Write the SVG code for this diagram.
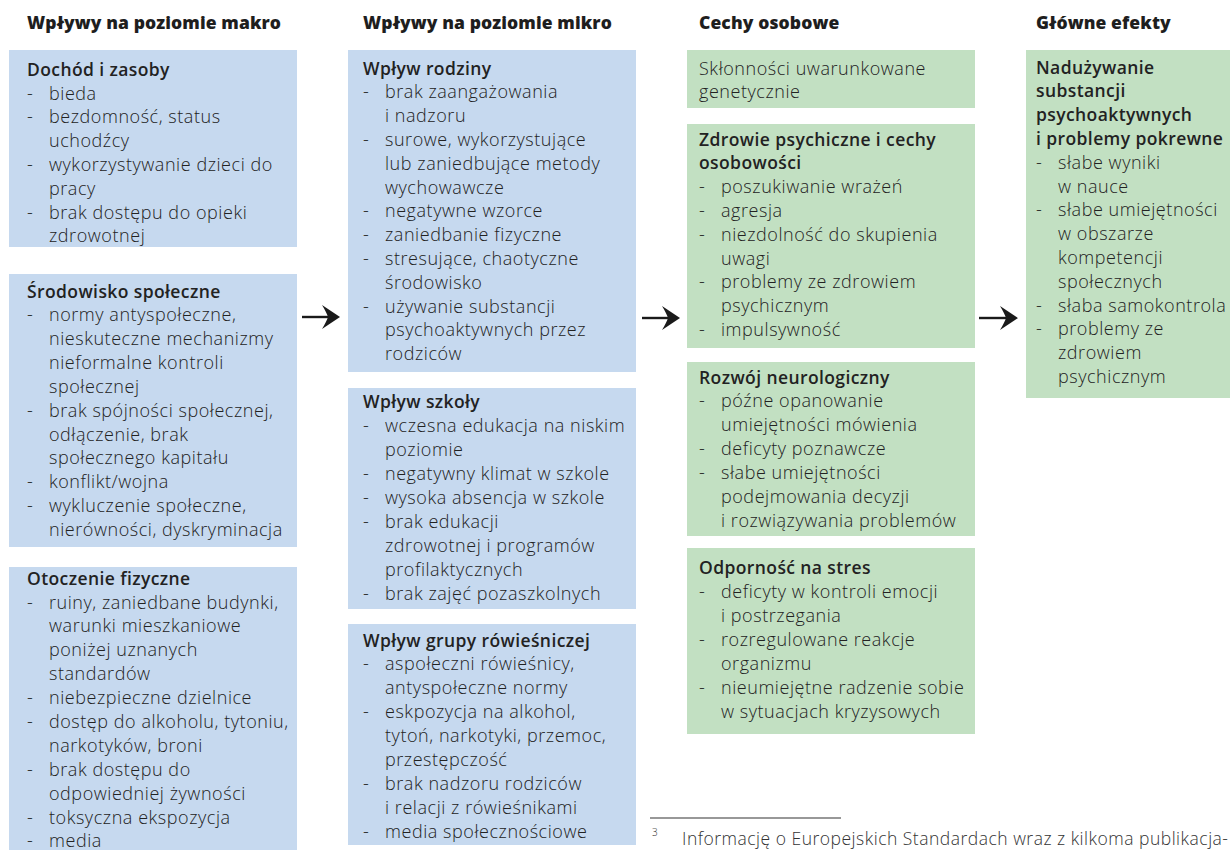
<svg xmlns="http://www.w3.org/2000/svg" width="1230" height="850" viewBox="0 0 1230 850">
<style>
.bg{fill:#ffffff}
.blue{fill:#c6d9ef}
.green{fill:#c2e0c2}
.hd{font-family:"Open Sans","Liberation Sans",sans-serif;font-weight:800;font-size:17.5px;fill:#1e1e1e;letter-spacing:0.1px}
.t{font-family:"Open Sans","Liberation Sans",sans-serif;font-weight:600;font-size:17.5px;fill:#222;letter-spacing:0.4px}
.i{font-family:"Open Sans","Liberation Sans",sans-serif;font-weight:300;font-size:18px;fill:#222;letter-spacing:0.55px}
.fn{font-family:"Open Sans","Liberation Sans",sans-serif;font-weight:300;font-size:17.5px;fill:#333}
.arr{stroke:#1a1a1a;stroke-width:2.4;fill:none}
.ah{fill:#1a1a1a}
</style>
<rect class="bg" x="0" y="0" width="1230" height="850"/>

<g id="headers">
<text class="hd" x="27" y="29">Wpływy na poziomie makro</text>
<text class="hd" x="363" y="29">Wpływy na poziomie mikro</text>
<text class="hd" x="699" y="29">Cechy osobowe</text>
<text class="hd" x="1036" y="29">Główne efekty</text>
</g>

<g id="dochod">
<rect class="blue" x="9" y="50" width="288" height="197"/>
<text class="t" x="27" y="76">Dochód i zasoby</text>
<text class="i" x="27" y="99.5">-</text><text class="i" x="49" y="99.5">bieda</text>
<text class="i" x="27" y="123.3">-</text><text class="i" x="49" y="123.3">bezdomność, status</text>
<text class="i" x="49" y="147.1">uchodźcy</text>
<text class="i" x="27" y="170.9">-</text><text class="i" x="49" y="170.9">wykorzystywanie dzieci do</text>
<text class="i" x="49" y="194.7">pracy</text>
<text class="i" x="27" y="218.5">-</text><text class="i" x="49" y="218.5">brak dostępu do opieki</text>
<text class="i" x="49" y="242.3">zdrowotnej</text>
</g>

<g id="srodowisko">
<rect class="blue" x="9" y="274" width="288" height="273"/>
<text class="t" x="27" y="297.5">Środowisko społeczne</text>
<text class="i" x="27" y="321">-</text><text class="i" x="49" y="321">normy antyspołeczne,</text>
<text class="i" x="49" y="344.9">nieskuteczne mechanizmy</text>
<text class="i" x="49" y="368.8">nieformalne kontroli</text>
<text class="i" x="49" y="392.7">społecznej</text>
<text class="i" x="27" y="416.6">-</text><text class="i" x="49" y="416.6">brak spójności społecznej,</text>
<text class="i" x="49" y="440.5">odłączenie, brak</text>
<text class="i" x="49" y="464.4">społecznego kapitału</text>
<text class="i" x="27" y="488.3">-</text><text class="i" x="49" y="488.3">konflikt/wojna</text>
<text class="i" x="27" y="512.2">-</text><text class="i" x="49" y="512.2">wykluczenie społeczne,</text>
<text class="i" x="49" y="536.1">nierówności, dyskryminacja</text>
</g>

<g id="otoczenie">
<rect class="blue" x="9" y="567" width="288" height="290"/>
<text class="t" x="27" y="585">Otoczenie fizyczne</text>
<text class="i" x="27" y="608.5">-</text><text class="i" x="49" y="608.5">ruiny, zaniedbane budynki,</text>
<text class="i" x="49" y="632.4">warunki mieszkaniowe</text>
<text class="i" x="49" y="656.3">poniżej uznanych</text>
<text class="i" x="49" y="680.2">standardów</text>
<text class="i" x="27" y="704.1">-</text><text class="i" x="49" y="704.1">niebezpieczne dzielnice</text>
<text class="i" x="27" y="728">-</text><text class="i" x="49" y="728">dostęp do alkoholu, tytoniu,</text>
<text class="i" x="49" y="751.9">narkotyków, broni</text>
<text class="i" x="27" y="775.8">-</text><text class="i" x="49" y="775.8">brak dostępu do</text>
<text class="i" x="49" y="799.7">odpowiedniej żywności</text>
<text class="i" x="27" y="823.6">-</text><text class="i" x="49" y="823.6">toksyczna ekspozycja</text>
<text class="i" x="27" y="847">-</text><text class="i" x="49" y="847">media</text>
</g>

<g id="rodzina">
<rect class="blue" x="348" y="50" width="288" height="322"/>
<text class="t" x="363" y="74.5">Wpływ rodziny</text>
<text class="i" x="363" y="98.3">-</text><text class="i" x="385" y="98.3">brak zaangażowania</text>
<text class="i" x="385" y="122.1">i nadzoru</text>
<text class="i" x="363" y="145.9">-</text><text class="i" x="385" y="145.9">surowe, wykorzystujące</text>
<text class="i" x="385" y="169.7">lub zaniedbujące metody</text>
<text class="i" x="385" y="193.5">wychowawcze</text>
<text class="i" x="363" y="217.3">-</text><text class="i" x="385" y="217.3">negatywne wzorce</text>
<text class="i" x="363" y="241.1">-</text><text class="i" x="385" y="241.1">zaniedbanie fizyczne</text>
<text class="i" x="363" y="264.9">-</text><text class="i" x="385" y="264.9">stresujące, chaotyczne</text>
<text class="i" x="385" y="288.7">środowisko</text>
<text class="i" x="363" y="312.5">-</text><text class="i" x="385" y="312.5">używanie substancji</text>
<text class="i" x="385" y="336.3">psychoaktywnych przez</text>
<text class="i" x="385" y="360.1">rodziców</text>
</g>

<g id="szkola">
<rect class="blue" x="348" y="388" width="288" height="221"/>
<text class="t" x="363" y="407.5">Wpływ szkoły</text>
<text class="i" x="363" y="431.6">-</text><text class="i" x="385" y="431.6">wczesna edukacja na niskim</text>
<text class="i" x="385" y="455.6">poziomie</text>
<text class="i" x="363" y="479.6">-</text><text class="i" x="385" y="479.6">negatywny klimat w szkole</text>
<text class="i" x="363" y="503.6">-</text><text class="i" x="385" y="503.6">wysoka absencja w szkole</text>
<text class="i" x="363" y="527.6">-</text><text class="i" x="385" y="527.6">brak edukacji</text>
<text class="i" x="385" y="551.6">zdrowotnej i programów</text>
<text class="i" x="385" y="575.6">profilaktycznych</text>
<text class="i" x="363" y="599.6">-</text><text class="i" x="385" y="599.6">brak zajęć pozaszkolnych</text>
</g>

<g id="rowiesnicy">
<rect class="blue" x="348" y="624" width="288" height="221"/>
<text class="t" x="363" y="646.5">Wpływ grupy rówieśniczej</text>
<text class="i" x="363" y="670.4">-</text><text class="i" x="385" y="670.4">aspołeczni rówieśnicy,</text>
<text class="i" x="385" y="694.3">antyspołeczne normy</text>
<text class="i" x="363" y="718.2">-</text><text class="i" x="385" y="718.2">eskpozycja na alkohol,</text>
<text class="i" x="385" y="742.1">tytoń, narkotyki, przemoc,</text>
<text class="i" x="385" y="766">przestępczość</text>
<text class="i" x="363" y="789.9">-</text><text class="i" x="385" y="789.9">brak nadzoru rodziców</text>
<text class="i" x="385" y="813.8">i relacji z rówieśnikami</text>
<text class="i" x="363" y="837.7">-</text><text class="i" x="385" y="837.7">media społecznościowe</text>
</g>

<g id="sklonnosci">
<rect class="green" x="687" y="50" width="288" height="58"/>
<text class="i" x="699" y="74.5">Skłonności uwarunkowane</text>
<text class="i" x="699" y="97.5">genetycznie</text>
</g>

<g id="zdrowie">
<rect class="green" x="687" y="124" width="288" height="224"/>
<text class="t" x="699" y="146">Zdrowie psychiczne i cechy</text>
<text class="t" x="699" y="169">osobowości</text>
<text class="i" x="699" y="192.8">-</text><text class="i" x="721" y="192.8">poszukiwanie wrażeń</text>
<text class="i" x="699" y="216.7">-</text><text class="i" x="721" y="216.7">agresja</text>
<text class="i" x="699" y="240.6">-</text><text class="i" x="721" y="240.6">niezdolność do skupienia</text>
<text class="i" x="721" y="264.5">uwagi</text>
<text class="i" x="699" y="288.4">-</text><text class="i" x="721" y="288.4">problemy ze zdrowiem</text>
<text class="i" x="721" y="312.3">psychicznym</text>
<text class="i" x="699" y="336.2">-</text><text class="i" x="721" y="336.2">impulsywność</text>
</g>

<g id="rozwoj">
<rect class="green" x="687" y="362" width="288" height="174"/>
<text class="t" x="699" y="383.5">Rozwój neurologiczny</text>
<text class="i" x="699" y="407">-</text><text class="i" x="721" y="407">późne opanowanie</text>
<text class="i" x="721" y="430.9">umiejętności mówienia</text>
<text class="i" x="699" y="454.8">-</text><text class="i" x="721" y="454.8">deficyty poznawcze</text>
<text class="i" x="699" y="478.7">-</text><text class="i" x="721" y="478.7">słabe umiejętności</text>
<text class="i" x="721" y="502.6">podejmowania decyzji</text>
<text class="i" x="721" y="526.5">i rozwiązywania problemów</text>
</g>

<g id="odpornosc">
<rect class="green" x="687" y="548" width="288" height="186"/>
<text class="t" x="699" y="573.5">Odporność na stres</text>
<text class="i" x="699" y="598">-</text><text class="i" x="721" y="598">deficyty w kontroli emocji</text>
<text class="i" x="721" y="621.9">i postrzegania</text>
<text class="i" x="699" y="645.8">-</text><text class="i" x="721" y="645.8">rozregulowane reakcje</text>
<text class="i" x="721" y="669.7">organizmu</text>
<text class="i" x="699" y="693.6">-</text><text class="i" x="721" y="693.6">nieumiejętne radzenie sobie</text>
<text class="i" x="721" y="717.5">w sytuacjach kryzysowych</text>
</g>

<g id="efekty">
<rect class="green" x="1026" y="50" width="204" height="348"/>
<text class="t" x="1036" y="73.5">Nadużywanie</text>
<text class="t" x="1036" y="97.3">substancji</text>
<text class="t" x="1036" y="121.1">psychoaktywnych</text>
<text class="t" x="1036" y="144.9">i problemy pokrewne</text>
<text class="i" x="1036" y="168.7">-</text><text class="i" x="1058" y="168.7">słabe wyniki</text>
<text class="i" x="1058" y="192.5">w nauce</text>
<text class="i" x="1036" y="216.3">-</text><text class="i" x="1058" y="216.3">słabe umiejętności</text>
<text class="i" x="1058" y="240.1">w obszarze</text>
<text class="i" x="1058" y="263.9">kompetencji</text>
<text class="i" x="1058" y="287.7">społecznych</text>
<text class="i" x="1036" y="311.5">-</text><text class="i" x="1058" y="311.5">słaba samokontrola</text>
<text class="i" x="1036" y="335.3">-</text><text class="i" x="1058" y="335.3">problemy ze</text>
<text class="i" x="1058" y="359.1">zdrowiem</text>
<text class="i" x="1058" y="382.9">psychicznym</text>
</g>

<g id="connectors">
<line class="arr" x1="302" y1="317" x2="332" y2="317"/>
<path class="ah" d="M340,317 C334,313 328,309 322,305 C325,310 327,314 328,317 C327,320 325,324 322,329 C328,325 334,321 340,317 Z"/>
<line class="arr" x1="642" y1="318" x2="672" y2="318"/>
<path class="ah" d="M680,318 C674,314 668,310 662,306 C665,311 667,315 668,318 C667,321 665,325 662,330 C668,326 674,322 680,318 Z"/>
<line class="arr" x1="979" y1="318" x2="1010" y2="318"/>
<path class="ah" d="M1018,318 C1012,314 1006,310 1000,306 C1003,311 1005,315 1006,318 C1005,321 1003,325 1000,330 C1006,326 1012,322 1018,318 Z"/>
</g>

<g id="footnote">
<line x1="650" y1="818" x2="841" y2="818" stroke="#333" stroke-width="1.2"/>
<text class="fn" x="652" y="836" style="font-size:10px">3</text>
<text class="fn" x="682" y="845" textLength="546" lengthAdjust="spacing">Informację o Europejskich Standardach wraz z kilkoma publikacja-</text>
</g>
</svg>
